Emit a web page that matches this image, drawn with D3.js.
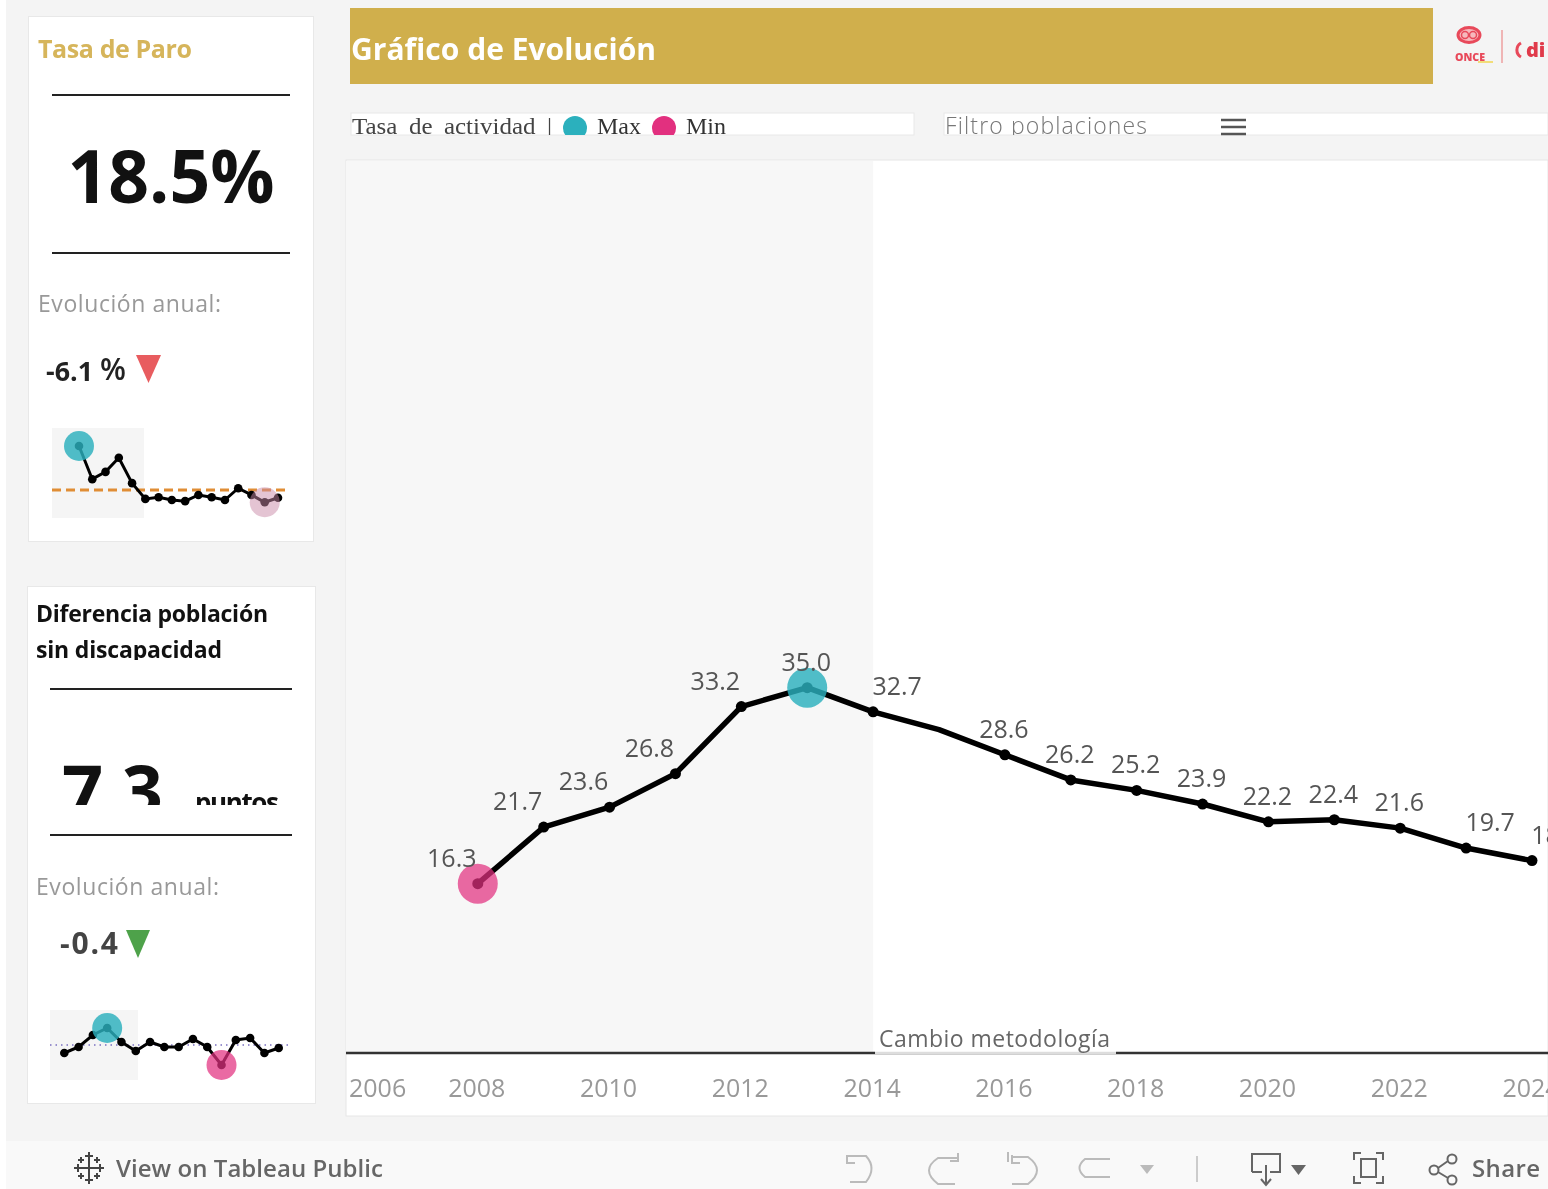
<!DOCTYPE html>
<html>
<head>
	<meta charset="utf-8">
	<title>Gráfico de Evolución</title>
	<style>
		html, body { margin: 0; padding: 0; background: #fff; overflow: hidden; }
		svg { display: block; filter: blur(0.6px); }
		text { font-family: "Open Sans", sans-serif; }
	</style>
</head>
<body>
	<svg id="container" width="1548" height="1189"></svg>
</body>
<script src="https://d3js.org/d3.v7.min.js"></script>
<script>
	// main line
	const years = [2008,2009,2010,2011,2012,2013,2014,2015,2016,2017,2018,2019,2020,2021,2022,2023,2024]
	const values = [16.3,21.7,23.6,26.8,33.2,35.0,32.7,31.0,28.6,26.2,25.2,23.9,22.2,22.4,21.6,19.7,18.5]
	const tickYears = [2006,2008,2010,2012,2014,2016,2018,2020,2022,2024]
	const unlabeledYears = [2015]

	// sparklines
	const sparkYears = [2009,2010,2011,2012,2013,2014,2015,2016,2017,2018,2019,2020,2021,2022,2023,2024]
	const paroValues = [42.8,36.9,38.2,40.7,36.2,33.4,33.7,33.2,33.0,34.1,33.7,33.2,35.3,34.1,32.8,33.6]
	const paroReference = 35.0
	const difValues = [5.4,6.6,9.0,10.4,7.6,5.8,7.6,6.6,6.6,8.2,6.6,3.0,8.0,8.4,5.4,6.4]
	const difReference = 7.0

	const teal = "#2bb0bd"
	const pink = "#e2307f"

	let svg = d3.select("#container")

	function rect(x, y, w, h, fill, stroke) {
		return svg.append("rect").attr("x", x).attr("y", y).attr("width", w).attr("height", h)
			.attr("fill", fill).attr("stroke", stroke || "none")
	}
	function hline(x1, x2, y, color, w) {
		return svg.append("line").attr("x1", x1).attr("x2", x2).attr("y1", y).attr("y2", y)
			.attr("stroke", color).attr("stroke-width", w || 2)
	}
	function label(txt, x, y, size, color, weight, parent) {
		return (parent || svg).append("text").attr("x", x).attr("y", y).text(txt)
			.attr("font-size", size).attr("fill", color).attr("font-weight", weight || 400)
	}
	function clip(id, x, y, w, h) {
		svg.append("clipPath").attr("id", id).append("rect")
			.attr("x", x).attr("y", y).attr("width", w).attr("height", h)
		return svg.append("g").attr("clip-path", "url(#" + id + ")")
	}

	// page
	rect(6, 0, 1542, 1141, "#f4f4f4")
	rect(6, 1141, 1542, 48, "#f9f9f9")

	// header
	rect(350, 8, 1083, 76, "#d0af4c")
	label("Gráfico de Evolución", 351, 60, 30, "#fff", 700).attr("textLength", 305).attr("lengthAdjust", "spacingAndGlyphs")

	// logos
	svg.append("ellipse").attr("cx", 1469).attr("cy", 35).attr("rx", 11).attr("ry", 7.5)
		.attr("fill", "#f6b9bd").attr("stroke", "#e8495a").attr("stroke-width", 3)
	svg.append("circle").attr("cx", 1465).attr("cy", 35).attr("r", 3.5).attr("fill", "none").attr("stroke", "#e8495a").attr("stroke-width", 1.5)
	svg.append("circle").attr("cx", 1473).attr("cy", 35).attr("r", 3.5).attr("fill", "none").attr("stroke", "#e8495a").attr("stroke-width", 1.5)
	label("ONCE", 1455, 61, 10, "#e8495a", 800).attr("textLength", 30).attr("lengthAdjust", "spacingAndGlyphs")
	hline(1478, 1493, 62, "#f2dd7a", 2)
	svg.append("line").attr("x1", 1502).attr("x2", 1502).attr("y1", 30).attr("y2", 63)
		.attr("stroke", "#eea0a0").attr("stroke-width", 1.5)
	svg.append("path").attr("d", "M1521 43 A8 8 0 0 0 1521 57").attr("fill", "none")
		.attr("stroke", "#e8495a").attr("stroke-width", 3)
	label("di", 1526, 57, 20, "#e03a4a", 800)

	// legend + filter
	rect(351, 113, 563, 22, "#fff", "#e8e8e8")
	rect(944, 113, 604, 22, "#fff", "#e8e8e8")
	let legend = clip("legendClip", 351, 113, 563, 22)
	label("Tasa de actividad |", 352, 134, 24, "#444", 400, legend)
		.style("font-family", "'Liberation Serif', serif")
		.attr("textLength", 200).attr("lengthAdjust", "spacingAndGlyphs").attr("word-spacing", 5)
	legend.append("circle").attr("cx", 575).attr("cy", 128).attr("r", 12).attr("fill", teal)
	label("Max", 597, 134, 24, "#333", 400, legend).style("font-family", "'Liberation Serif', serif")
	legend.append("circle").attr("cx", 664).attr("cy", 128).attr("r", 12).attr("fill", pink)
	label("Min", 686, 134, 24, "#333", 400, legend).style("font-family", "'Liberation Serif', serif")
	let filtro = clip("filtroClip", 944, 113, 604, 22)
	label("Filtro poblaciones", 945, 134, 23, "#777", 300, filtro).attr("textLength", 202)
	hline(1221, 1246, 120, "#555", 2.5)
	hline(1221, 1246, 127, "#555", 2.5)
	hline(1221, 1246, 134, "#555", 2.5)

	// main chart
	let x = d3.scaleLinear().domain([2006, 2024]).range([346, 1532])
	let y = d3.scaleLinear().domain([0, 85]).range([1054.5, 163.7])
	let data = years.map((year, i) => ({year: year, value: values[i]}))
	let maxPoint = data[values.indexOf(d3.max(values))]
	let minPoint = data[values.indexOf(d3.min(values))]

	rect(346, 160, 1202, 956, "#fff", "#e6e6e6")
	rect(x(2006), 161, x(2014) - x(2006), 1053 - 161, "#f7f7f7")

	let chart = clip("chartClip", 346, 160, 1202, 956)

	chart.append("path").datum(data)
		.attr("d", d3.line().x(d => x(d.year)).y(d => y(d.value)))
		.attr("fill", "none").attr("stroke", "#000").attr("stroke-width", 5.5)
		.attr("stroke-linejoin", "round")
	chart.selectAll("circle.dot").data(data).enter().append("circle")
		.attr("class", "dot")
		.attr("cx", d => x(d.year)).attr("cy", d => y(d.value))
		.attr("r", d => unlabeledYears.includes(d.year) ? 0 : 5.5).attr("fill", "#000")

	chart.append("circle").attr("cx", x(maxPoint.year)).attr("cy", y(maxPoint.value)).attr("r", 20)
		.attr("fill", teal).attr("opacity", 0.82)
	chart.append("circle").attr("cx", x(minPoint.year)).attr("cy", y(minPoint.value)).attr("r", 20)
		.attr("fill", pink).attr("opacity", 0.72)

	// labels sit up-left on the rise, up-right on a few of the others
	function labelShift(year) {
		if (year <= 2012) return -26
		if (year == 2014 || year >= 2023) return 24
		return -1
	}
	chart.selectAll("text.value").data(data.filter(d => !unlabeledYears.includes(d.year))).enter().append("text")
		.attr("class", "value")
		.attr("x", d => x(d.year) + labelShift(d.year))
		.attr("y", d => y(d.value) - 17)
		.attr("text-anchor", "middle")
		.attr("font-size", 25).attr("fill", "#555")
		.text(d => d.value.toFixed(1))

	// baseline with the methodology note sitting on it
	hline(346, 1548, 1053, "#333", 2.5)
	rect(875, 1026, 241, 26, "#fff")
	hline(875, 1116, 1053, "#ddd", 2.5)
	label("Cambio metodología", 879, 1047, 23, "#666", 400).attr("textLength", 231)

	let axis = d3.axisBottom(x).tickValues(tickYears).tickFormat(d3.format("d")).tickSize(0)
	let axisG = chart.append("g").attr("transform", "translate(-1.5,1079)").call(axis)
	axisG.select(".domain").remove()
	axisG.selectAll("text")
		.attr("font-size", 25).attr("fill", "#999").style("font-family", "'Open Sans', sans-serif")
		.attr("dy", 0).attr("y", 18)
	axisG.selectAll(".tick").filter(d => d == 2006).select("text")
		.attr("text-anchor", "start").attr("x", 4)

	// left cards
	function spark(opts) {
		rect(opts.band[0], opts.band[1], opts.band[2], opts.band[3], "#f5f5f5")
		let sx = d3.scaleLinear().domain(opts.xDomain).range(opts.xRange)
		let sy = d3.scaleLinear().domain(opts.yDomain).range(opts.yRange)
		let pts = sparkYears.map((year, i) => ({year: year, value: opts.values[i]}))
		let maxV = d3.max(opts.values), minV = d3.min(opts.values)

		svg.append("line")
			.attr("x1", opts.refX[0]).attr("x2", opts.refX[1])
			.attr("y1", sy(opts.reference)).attr("y2", sy(opts.reference))
			.attr("stroke", opts.refColor).attr("stroke-width", opts.refWidth)
			.attr("stroke-dasharray", opts.refDash)
		svg.append("path").datum(pts)
			.attr("d", d3.line().x(d => sx(d.year)).y(d => sy(d.value)))
			.attr("fill", "none").attr("stroke", "#000").attr("stroke-width", 3)
		svg.append("g").selectAll("circle").data(pts).enter().append("circle")
			.attr("cx", d => sx(d.year)).attr("cy", d => sy(d.value)).attr("r", 4.3).attr("fill", "#000")
		let hi = pts.find(d => d.value == maxV), lo = pts.find(d => d.value == minV)
		svg.append("circle").attr("cx", sx(hi.year)).attr("cy", sy(hi.value)).attr("r", 15)
			.attr("fill", teal).attr("opacity", 0.82)
		svg.append("circle").attr("cx", sx(lo.year)).attr("cy", sy(lo.value)).attr("r", 15)
			.attr("fill", opts.minColor).attr("opacity", opts.minOpacity)
	}

	// card 1
	rect(28.5, 16.5, 285, 525, "#fff", "#e8e8e8")
	label("Tasa de Paro", 38, 58, 25, "#d6b55b", 700).attr("textLength", 154)
	hline(52, 290, 95, "#222", 2)
	label("18.5%", 171, 203, 73, "#111", 700).attr("text-anchor", "middle")
		.attr("textLength", 207).attr("lengthAdjust", "spacingAndGlyphs")
	hline(52, 290, 253, "#222", 2)
	label("Evolución anual:", 38, 312, 23, "#999", 400).attr("textLength", 183)
	label("-6.1", 46, 381, 27, "#222", 700).attr("textLength", 47).attr("lengthAdjust", "spacingAndGlyphs")
	label("%", 100, 380, 30, "#222", 600)
	svg.append("path").attr("d", "M136 355 L161 355 L148.5 383 Z").attr("fill", "#e85c5f")
	spark({
		band: [52, 428, 92, 90], xDomain: [2009, 2024], xRange: [79, 278],
		yDomain: [30, 46], yRange: [518, 428], values: paroValues, reference: paroReference,
		refX: [52, 287], refColor: "#e08d35", refWidth: 3, refDash: "9,5",
		minColor: "#c98aa8", minOpacity: 0.5
	})

	// card 2
	rect(27.5, 586.5, 288, 517, "#fff", "#e8e8e8")
	let title = clip("titleClip", 28, 590, 280, 70)
	label("Diferencia población", 36, 622, 23, "#111", 700, title).attr("textLength", 232)
	label("sin discapacidad", 36, 658, 23, "#111", 700, title).attr("textLength", 186)
	hline(50, 292, 689, "#222", 2)
	let big = clip("bigClip", 50, 750, 240, 55)
	label("7.3", 62, 817, 72, "#111", 700, big).attr("textLength", 101)
	label("puntos", 195, 812, 26, "#111", 700, big).attr("textLength", 84)
	hline(50, 292, 835, "#222", 2)
	label("Evolución anual:", 36, 895, 23, "#999", 400).attr("textLength", 183)
	label("-0.4", 60, 954, 30, "#444", 700).attr("textLength", 58)
	svg.append("path").attr("d", "M126 930 L150 930 L138 958 Z").attr("fill", "#4ea24a")
	spark({
		band: [50, 1010, 88, 70], xDomain: [2009, 2024], xRange: [64.3, 278.7],
		yDomain: [0, 14], yRange: [1080, 1010], values: difValues, reference: difReference,
		refX: [50, 292], refColor: "#7a6fc0", refWidth: 1.5, refDash: "1.5,4",
		minColor: pink, minOpacity: 0.72
	})

	// toolbar
	let plus = [[89,1168,8],[78,1168,4],[100,1168,4],[89,1156,4],[89,1180,4],[81,1160,3],[97,1160,3],[81,1176,3],[97,1176,3]]
	svg.append("g").attr("stroke", "#444").attr("stroke-width", 2).selectAll("path").data(plus).enter().append("path")
		.attr("d", d => `M${d[0]-d[2]} ${d[1]}H${d[0]+d[2]}M${d[0]} ${d[1]-d[2]}V${d[1]+d[2]}`)
	label("View on Tableau Public", 116, 1177, 24, "#666", 600).attr("textLength", 267)
	label("Share", 1472, 1177, 24, "#666", 600).attr("textLength", 68)

	let grey = svg.append("g").attr("fill", "none").attr("stroke", "#bbb").attr("stroke-width", 2)
	grey.append("path").attr("d", "M847 1155 V1163 H855 M848 1156 H866 Q877 1168 866 1182 H850")
	grey.append("path").attr("d", "M958 1153 V1161 H950 M958 1158 H938 Q920 1170 938 1184 H955")
	grey.append("path").attr("d", "M1008 1152 V1162 M1012 1155 V1163 H1020 M1013 1157 H1028 Q1046 1170 1028 1184 H1012")
	grey.append("path").attr("d", "M1110 1159 H1085 Q1074 1168 1085 1177 H1110")
	svg.append("path").attr("d", "M1140 1165 H1154 L1147 1174 Z").attr("fill", "#bbb")
	svg.append("line").attr("x1", 1197).attr("x2", 1197).attr("y1", 1156).attr("y2", 1182)
		.attr("stroke", "#ccc").attr("stroke-width", 2)

	let dark = svg.append("g").attr("fill", "none").attr("stroke", "#666").attr("stroke-width", 2)
	dark.append("path").attr("d", "M1252 1172 V1154 H1280 V1172 H1270 M1262 1172 H1252")
	dark.append("path").attr("d", "M1266 1165 V1184 M1261 1179 L1266 1185 L1271 1179")
	svg.append("path").attr("d", "M1291 1165 H1306 L1298.5 1175 Z").attr("fill", "#666")
	dark.append("path").attr("d", "M1354 1160 V1153 H1361 M1376 1153 H1383 V1160 M1383 1176 V1183 H1376 M1361 1183 H1354 V1176")
	dark.append("rect").attr("x", 1361).attr("y", 1159).attr("width", 15).attr("height", 18)
	dark.append("circle").attr("cx", 1434).attr("cy", 1170).attr("r", 4.5)
	dark.append("circle").attr("cx", 1452).attr("cy", 1159).attr("r", 4.5)
	dark.append("circle").attr("cx", 1452).attr("cy", 1180).attr("r", 4.5)
	dark.append("path").attr("d", "M1438 1168 L1448 1161 M1438 1172 L1448 1178")
</script>
</html>
